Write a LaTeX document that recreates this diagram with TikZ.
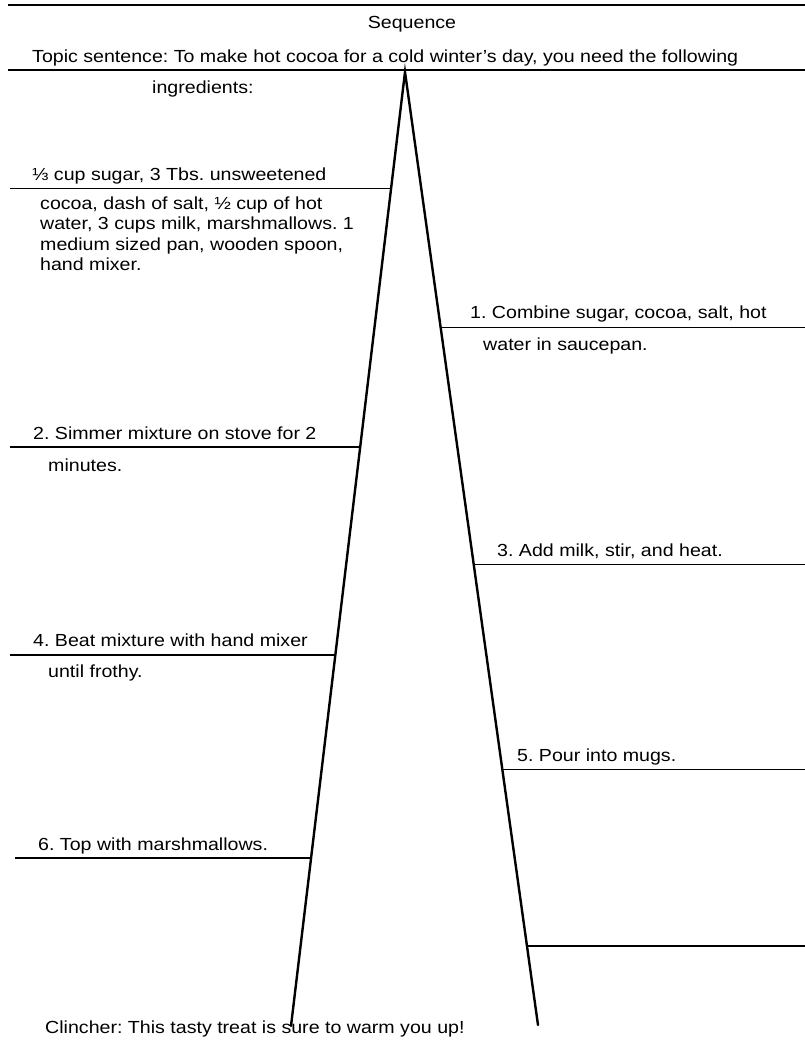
\documentclass[tikz,border=0pt]{standalone}
\usepackage{fontspec}
\setmainfont{Liberation Sans}[FakeStretch=1.12]
\usetikzlibrary{calc}
\frenchspacing

\begin{document}
\begin{tikzpicture}[
  x=1pt, y=-1pt,
  every node/.style={inner sep=0pt,anchor=base west,font=\fontsize{17.5}{20.5}\selectfont},
  rule/.style={line width=1.4pt}, leg/.style={line width=2.4pt,line cap=round}
]
  \useasboundingbox (0,0) rectangle (805,1041);
  % the triangle
  \coordinate (apex) at (405,72);
  \coordinate (lbot) at (291,1026);
  \coordinate (rbot) at (538,1025);
  \draw[leg] (lbot) -- (apex) -- (rbot);
  % header
  \coordinate (topleft) at (8,5);
  \coordinate (topright) at (805,5);
  \draw[rule] (topleft) -- (topright);
  \node[anchor=base] (title) at (412,29) {Sequence};
  \node (topic) at (32,63) {Topic sentence: To make hot cocoa for a cold winter's day, you need the following};
  \coordinate (topicleft) at (8,70);
  \coordinate (topicright) at (805,70);
  \draw[rule] (topicleft) -- (topicright);
  \node (topicb) at (152,93) {ingredients:};
  % left side
  \coordinate (l0) at ($(apex)!0.122!(lbot)$);
  \coordinate (l2) at ($(apex)!0.393!(lbot)$);
  \coordinate (l4) at ($(apex)!0.611!(lbot)$);
  \coordinate (l6) at ($(apex)!0.824!(lbot)$);
  \draw[rule] (l0) -- (l0 -| 10,0);
  \draw[rule] (l2) -- (l2 -| 10,0);
  \draw[rule] (l4) -- (l4 -| 10,0);
  \draw[rule] (l6) -- (l6 -| 15,0);
  \node (ing) at (32,180) {⅓ cup sugar, 3 Tbs. unsweetened};
  % base of a multi-line node is its last line
  \node[align=left] (ingb) at (40,270.5) {cocoa, dash of salt, ½ cup of hot\\water, 3 cups milk, marshmallows. 1\\medium sized pan, wooden spoon,\\hand mixer.};
  \node (step2) at (33,439) {2. Simmer mixture on stove for 2};
  \node (step2b) at (48,471) {minutes.};
  \node (step4) at (33,646) {4. Beat mixture with hand mixer};
  \node (step4b) at (48,677) {until frothy.};
  \node (step6) at (38,850) {6. Top with marshmallows.};
  % right side
  \coordinate (r1) at ($(apex)!0.268!(rbot)$);
  \coordinate (r3) at ($(apex)!0.517!(rbot)$);
  \coordinate (r5) at ($(apex)!0.732!(rbot)$);
  \coordinate (r7) at ($(apex)!0.917!(rbot)$);
  \draw[rule] (r1) -- (r1 -| 805,0);
  \draw[rule] (r3) -- (r3 -| 805,0);
  \draw[rule] (r5) -- (r5 -| 805,0);
  \draw[rule] (r7) -- (r7 -| 805,0);
  \node (step1) at (470,318) {1. Combine sugar, cocoa, salt, hot};
  \node (step1b) at (483,350) {water in saucepan.};
  \node (step3) at (497,556) {3. Add milk, stir, and heat.};
  \node (step5) at (517,761) {5. Pour into mugs.};
  % clincher
  \node (clincher) at (45,1033) {Clincher: This tasty treat is sure to warm you up!};
\end{tikzpicture}
\end{document}
